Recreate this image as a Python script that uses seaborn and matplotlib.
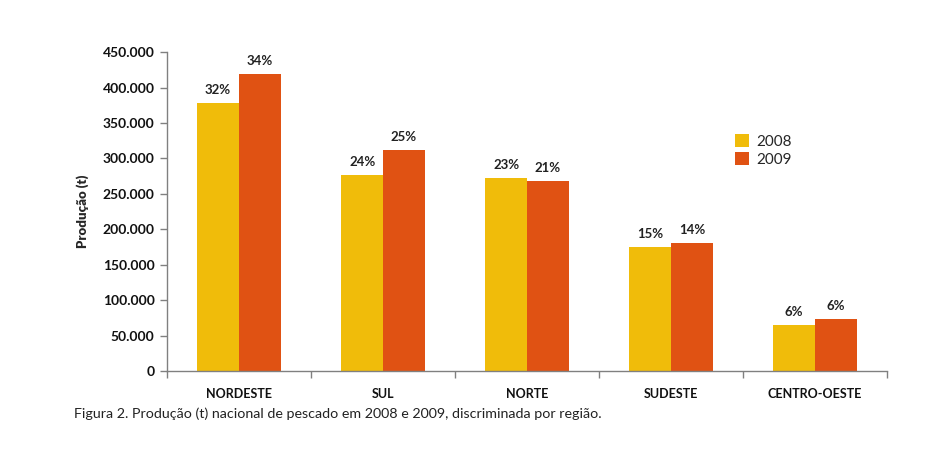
import pandas as pd
import matplotlib
matplotlib.use("Agg")
import matplotlib.pyplot as plt
import seaborn as sns
from matplotlib.ticker import FuncFormatter, FixedLocator

# Data
regioes = ['NORDESTE', 'SUL', 'NORTE', 'SUDESTE', 'CENTRO-OESTE']
prod_2008 = [378000, 276500, 272000, 175000, 65000]
prod_2009 = [419500, 311500, 268000, 180500, 73000]
pct_2008 = ['32%', '24%', '23%', '15%', '6%']
pct_2009 = ['34%', '25%', '21%', '14%', '6%']
anos = ['2008', '2009']
cores = ['#F0BC0A', '#E05213']

df = pd.DataFrame({
    'Regiao': regioes * 2,
    'Ano': ['2008'] * len(regioes) + ['2009'] * len(regioes),
    'Producao': prod_2008 + prod_2009,
})

sns.set_theme(style="white")
plt.rcParams['font.family'] = ['Lato', 'DejaVu Sans']

fig = plt.figure(figsize=(9.34, 4.57), dpi=100)
ax = fig.add_axes([0.1788, 0.1882, 0.7709, 0.6978])

sns.barplot(data=df, x='Regiao', y='Producao', hue='Ano', palette=cores,
            hue_order=anos, width=0.58, saturation=1, linewidth=0, ax=ax)

# percent labels above each bar
for cont, labels in zip(ax.containers, [pct_2008, pct_2009]):
    ax.bar_label(cont, labels=labels, padding=5, fontsize=9.5, fontweight='bold', color='#222222')

ax.set_ylim(0, 450000)
ax.set_xlim(-0.5, len(regioes) - 0.5)
ax.yaxis.set_major_locator(FixedLocator(range(0, 450001, 50000)))
ax.yaxis.set_major_formatter(FuncFormatter(lambda v, p: f'{int(v):,}'.replace(',', '.')))

for s in ['top', 'right']:
    ax.spines[s].set_visible(False)
for s in ['left', 'bottom']:
    ax.spines[s].set_color('#808080')
    ax.spines[s].set_linewidth(1)

ax.tick_params(axis='y', which='major', left=True, length=5, width=1, color='#808080',
               labelsize=10, pad=4)
ax.tick_params(axis='x', which='major', bottom=False, labelsize=9, pad=6)
ax.set_xticks([i + 0.5 for i in range(-1, len(regioes))], minor=True)
ax.tick_params(axis='x', which='minor', bottom=True, length=5, width=1, color='#808080')
for lab in ax.get_xticklabels() + ax.get_yticklabels():
    lab.set_fontweight('bold')
    lab.set_color('#111111')

ax.set_xlabel('')
ax.set_ylabel('Produção (t)', fontsize=9.5, fontweight='heavy', labelpad=10)

ax.legend(title=None, frameon=False, loc='upper left', bbox_to_anchor=(0.77, 0.785),
          fontsize=11, handlelength=0.9, handleheight=0.9, handletextpad=0.5,
          labelspacing=0.2)

fig.text(0.079, 0.085, 'Figura 2. Produção (t) nacional de pescado em 2008 e 2009, discriminada por região.',
         fontsize=10.3, color='#222222')

fig.savefig('out.png', dpi=100)
